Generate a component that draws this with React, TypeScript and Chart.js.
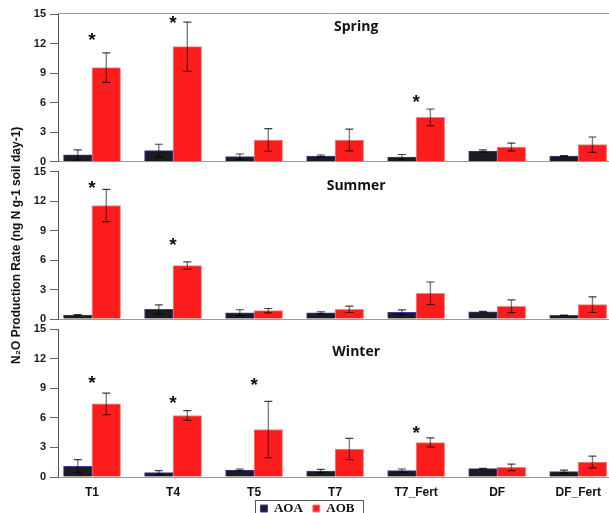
import React, { useEffect, useRef } from 'react';
import { Chart, registerables } from 'chart.js';

Chart.register(...registerables);

// ---------- data ----------
const categories = ['T1', 'T4', 'T5', 'T7', 'T7_Fert', 'DF', 'DF_Fert'];
const yTicks = [0, 3, 6, 9, 12, 15];
const seriesNames = ['AOA', 'AOB'];
const seasons = ['Spring', 'Summer', 'Winter'];
const yTitle = 'N\u2082O Production Rate (ng N g-1 soil day-1)';

const springAOA = [0.7, 1.12, 0.51, 0.58, 0.48, 1.09, 0.58];
const springAOAErr = [0.5, 0.65, 0.27, 0.1, 0.25, 0.12, 0.05];
const springAOB = [9.55, 11.68, 2.2, 2.2, 4.5, 1.49, 1.73];
const springAOBErr = [1.5, 2.5, 1.15, 1.1, 0.85, 0.4, 0.78];
const springStars = [12.76, 14.45, null, null, 6.43, null, null];

const summerAOA = [0.41, 0.99, 0.64, 0.64, 0.68, 0.74, 0.37];
const summerAOAErr = [0.05, 0.44, 0.3, 0.1, 0.24, 0.05, 0.03];
const summerAOB = [11.56, 5.43, 0.85, 0.99, 2.62, 1.29, 1.46];
const summerAOBErr = [1.65, 0.38, 0.22, 0.33, 1.15, 0.65, 0.8];
const summerStars = [13.73, 7.87, null, null, null, null, null];

const winterAOA = [1.09, 0.44, 0.71, 0.61, 0.65, 0.85, 0.55];
const winterAOAErr = [0.67, 0.2, 0.1, 0.17, 0.16, 0.03, 0.15];
const winterAOB = [7.41, 6.23, 4.81, 2.84, 3.49, 0.98, 1.52];
const winterAOBErr = [1.1, 0.5, 2.85, 1.08, 0.47, 0.33, 0.6];
const winterStars = [9.89, 7.87, 9.65, null, 4.79, null, null];

// ---------- layout / style ----------
const W = 609;
const AXIS_LEFT = 58;
const X_MIN = -0.42;
const X_MAX = 6.38;
const SANS = '"Liberation Sans", Arial, sans-serif';

type PanelCfg = {
  title: string;
  aoa: number[]; aoaErr: number[]; aob: number[]; aobErr: number[]; stars: (number | null)[];
  top: number; height: number; padTop: number; padBottom: number; padLeft: number;
  xHeight: number; showX: boolean; showYTitle: boolean; topBorder: boolean; legend: boolean;
  titleX: number; titleY: number;
};

const panels: PanelCfg[] = [
  { title: seasons[0], aoa: springAOA, aoaErr: springAOAErr, aob: springAOB, aobErr: springAOBErr, stars: springStars,
    top: 0, height: 178, padTop: 14, padBottom: 16.3, padLeft: 0, xHeight: 0, showX: false, showYTitle: false,
    topBorder: true, legend: false, titleX: 3.26, titleY: 13.3 },
  { title: seasons[1], aoa: summerAOA, aoaErr: summerAOAErr, aob: summerAOB, aobErr: summerAOBErr, stars: summerStars,
    top: 100, height: 280, padTop: 71.7, padBottom: 61, padLeft: 0, xHeight: 0, showX: false, showYTitle: true,
    topBorder: false, legend: false, titleX: 3.26, titleY: 13.14 },
  { title: seasons[2], aoa: winterAOA, aoaErr: winterAOAErr, aob: winterAOB, aobErr: winterAOBErr, stars: winterStars,
    top: 312, height: 213, padTop: 17, padBottom: 0, padLeft: 6, xHeight: 15, showX: true, showYTitle: false,
    topBorder: false, legend: true, titleX: 3.26, titleY: 12.28 },
];

const decorPlugin = {
  id: 'panelDecor',
  afterDatasetsDraw(chart: any, _args: any, opts: any) {
    const { ctx } = chart;
    const xs = chart.scales.x;
    const ys = chart.scales.y;
    ctx.save();
    // error bars
    chart.data.datasets.forEach((ds: any, di: number) => {
      const meta = chart.getDatasetMeta(di);
      meta.data.forEach((bar: any, i: number) => {
        const v = ds.data[i].y;
        const e = ds.errors[i];
        if (!e) return;
        const yt = ys.getPixelForValue(v + e);
        const yb = ys.getPixelForValue(Math.max(v - e, 0));
        ctx.strokeStyle = 'rgba(0,0,0,0.5)';
        ctx.lineWidth = 1.4;
        ctx.beginPath();
        ctx.moveTo(bar.x, yt);
        ctx.lineTo(bar.x, yb);
        ctx.stroke();
        ctx.strokeStyle = 'rgba(0,0,0,0.75)';
        ctx.lineWidth = 1.2;
        ctx.beginPath();
        ctx.moveTo(bar.x - 4, yt); ctx.lineTo(bar.x + 4, yt);
        ctx.moveTo(bar.x - 4, yb); ctx.lineTo(bar.x + 4, yb);
        ctx.stroke();
      });
    });
    // asterisks
    ctx.fillStyle = '#111';
    ctx.font = 'bold 19px ' + SANS;
    ctx.textAlign = 'center';
    ctx.textBaseline = 'alphabetic';
    const m = ctx.measureText('*');
    const asc = m.actualBoundingBoxAscent, desc = m.actualBoundingBoxDescent;
    opts.stars.forEach((s: number | null, i: number) => {
      if (s == null) return;
      const cy = ys.getPixelForValue(s);
      ctx.fillText('*', xs.getPixelForValue(i), cy + (asc - desc) / 2);
    });
    // season title
    ctx.font = 'bold 14px "Open Sans", "Noto Sans", sans-serif';
    ctx.fillStyle = '#111';
    ctx.fillText(opts.title, xs.getPixelForValue(opts.titleX), ys.getPixelForValue(opts.titleY));
    // top border
    if (opts.topBorder) {
      ctx.strokeStyle = '#9a9a9a';
      ctx.lineWidth = 1;
      ctx.beginPath();
      ctx.moveTo(chart.chartArea.left, chart.chartArea.top - 0.5);
      ctx.lineTo(chart.chartArea.right, chart.chartArea.top - 0.5);
      ctx.stroke();
    }
    ctx.restore();
  },
  afterDraw(chart: any) {
    const lg = chart.legend;
    if (!lg || !lg.options.display || !lg.legendHitBoxes || !lg.legendHitBoxes.length) return;
    const hb = lg.legendHitBoxes;
    const l = Math.round(hb[0].left - 5);
    const last = hb[hb.length - 1];
    const r = Math.round(last.left + last.width + 8);
    const t = Math.round(hb[0].top - 2);
    const { ctx } = chart;
    ctx.save();
    ctx.strokeStyle = '#555';
    ctx.lineWidth = 1;
    ctx.strokeRect(l + 0.5, t + 0.5, r - l, 40);
    ctx.restore();
  },
};

function Panel({ p }: { p: PanelCfg }) {
  const ref = useRef<HTMLCanvasElement>(null);
  useEffect(() => {
    const chart = new Chart(ref.current as HTMLCanvasElement, {
      type: 'bar',
      data: {
        datasets: [
          {
            label: seriesNames[0],
            data: p.aoa.map((v, i) => ({ x: i, y: v })),
            backgroundColor: '#1c1c1f',
            borderColor: '#3a3aa8',
            borderWidth: 1,
            errors: p.aoaErr,
          } as any,
          {
            label: seriesNames[1],
            data: p.aob.map((v, i) => ({ x: i, y: v })),
            backgroundColor: '#fc1c1c',
            borderColor: '#f58585',
            borderWidth: 1,
            errors: p.aobErr,
          } as any,
        ],
      },
      options: {
        animation: false,
        responsive: false,
        layout: { padding: { top: p.padTop, bottom: p.padBottom, left: p.padLeft, right: 0 } },
        datasets: { bar: { barThickness: 28.5 } },
        scales: {
          x: {
            type: 'linear',
            offset: false,
            min: X_MIN,
            max: X_MAX,
            afterBuildTicks: (s: any) => { s.ticks = categories.map((_, i) => ({ value: i })); },
            afterFit: (s: any) => {
              s.height = p.xHeight;
              s._computeLabelArea = () => undefined;
            },
            grid: { display: false, offset: false, drawTicks: false },
            border: { display: true, color: '#9a9a9a', width: 1 },
            ticks: {
              display: p.showX,
              autoSkip: false,
              maxRotation: 0,
              padding: 8,
              color: '#111',
              font: { family: SANS, weight: 'bold', size: 12 },
              callback: (v: any) => categories[v as number],
            },
          },
          y: {
            min: 0,
            max: 15,
            afterBuildTicks: (s: any) => { s.ticks = yTicks.map((v) => ({ value: v })); },
            afterFit: (s: any) => { s.width = AXIS_LEFT - p.padLeft; },
            grid: { drawOnChartArea: false, drawTicks: true, tickLength: 8, color: '#666' },
            border: { display: true, color: '#555', width: 1 },
            ticks: { padding: 4, color: '#1a1a1a', font: { family: SANS, weight: 'bold', size: 11 } },
            title: {
              display: p.showYTitle,
              text: yTitle,
              color: '#111',
              font: { family: SANS, weight: 'bold', size: 12 },
              padding: { top: 9, bottom: 0 },
            },
          },
        },
        plugins: {
          legend: {
            display: p.legend,
            position: 'bottom',
            labels: {
              boxWidth: 7,
              boxHeight: 7,
              padding: 10,
              color: '#111',
              font: { family: '"Liberation Serif", "Times New Roman", serif', weight: 'bold', size: 13 },
            },
          },
          tooltip: { enabled: false },
          panelDecor: {
            stars: p.stars,
            title: p.title,
            titleX: p.titleX,
            titleY: p.titleY,
            topBorder: p.topBorder,
          },
        } as any,
      } as any,
      plugins: [decorPlugin],
    });
    return () => chart.destroy();
  }, []);
  return (
    <canvas
      ref={ref}
      width={W}
      height={p.height}
      style={{ position: 'absolute', left: 0, top: p.top, display: 'block' }}
    />
  );
}

export default function App() {
  return (
    <div
      style={{
        position: 'fixed',
        left: 0,
        top: 0,
        width: W,
        height: 513,
        overflow: 'hidden',
        background: '#fff',
      }}
    >
      {panels.map((p) => (
        <Panel key={p.title} p={p} />
      ))}
    </div>
  );
}
